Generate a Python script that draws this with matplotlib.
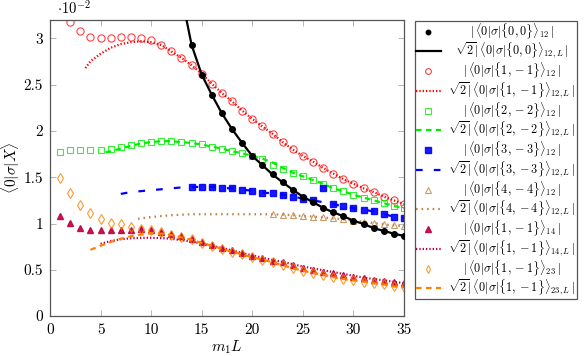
import matplotlib
matplotlib.use("Agg")
import matplotlib.pyplot as plt
from matplotlib.ticker import FuncFormatter, MultipleLocator
from matplotlib.transforms import Affine2D

plt.rcParams['font.family'] = 'serif'
plt.rcParams['font.serif'] = ['cmr10', 'DejaVu Serif']
plt.rcParams['mathtext.fontset'] = 'cm'
plt.rcParams['axes.formatter.use_mathtext'] = True
plt.rcParams['axes.unicode_minus'] = False

# ---------------- data (values in units of 1e-2) ----------------
x00_pts = list(range(14, 36))
y00_pts = [2.93, 2.61, 2.39, 2.19, 2.02, 1.87, 1.73, 1.63, 1.53, 1.445, 1.365,
           1.29, 1.23, 1.17, 1.12, 1.08, 1.03, 0.995, 0.95, 0.92, 0.89, 0.865]
x00_line = [13.5] + list(range(14, 36))
y00_line = [3.2] + y00_pts

x11_pts = list(range(2, 36))
y11_pts = [3.18, 3.08, 3.015, 3.00, 3.01, 3.02, 3.02, 3.01, 2.98, 2.93, 2.86, 2.79,
           2.71, 2.62, 2.51, 2.41, 2.32, 2.22, 2.13, 2.05, 1.97, 1.88, 1.80, 1.73,
           1.67, 1.60, 1.54, 1.48, 1.43, 1.38, 1.34, 1.29, 1.25, 1.21]
x11_line = [3.5] + list(range(4, 36))
y11_line = [2.68, 2.755, 2.835, 2.90, 2.94, 2.96, 2.97, 2.96, 2.93, 2.86, 2.79,
            2.71, 2.62, 2.51, 2.41, 2.32, 2.22, 2.13, 2.05, 1.97, 1.88, 1.80, 1.73,
            1.67, 1.60, 1.54, 1.48, 1.43, 1.38, 1.34, 1.29, 1.25, 1.21]

x22_pts = list(range(1, 36))
y22_pts = [1.773, 1.795, 1.795, 1.79, 1.79, 1.805, 1.825, 1.845, 1.867, 1.88, 1.893,
           1.893, 1.88, 1.87, 1.855, 1.83, 1.81, 1.78, 1.76, 1.73, 1.70, 1.635, 1.59,
           1.55, 1.51, 1.47, 1.43, 1.38, 1.35, 1.31, 1.28, 1.25, 1.22, 1.19, 1.165]
x22_line = [5.5] + list(range(6, 36))
y22_line = [1.77, 1.78, 1.81, 1.84, 1.865, 1.88, 1.89, 1.89, 1.88, 1.87, 1.855, 1.83,
            1.81, 1.78, 1.76, 1.73, 1.70, 1.66, 1.60, 1.55, 1.51, 1.47, 1.43, 1.38,
            1.35, 1.31, 1.28, 1.25, 1.22, 1.19, 1.165]

x33_pts = list(range(14, 36))
y33_pts = [1.395, 1.395, 1.395, 1.385, 1.38, 1.365, 1.355, 1.335, 1.325, 1.31, 1.29,
           1.27, 1.25, 1.38, 1.21, 1.185, 1.165, 1.15, 1.13, 1.10, 1.075, 1.06]
x33_line = list(range(7, 36))
y33_line = [1.32, 1.34, 1.35, 1.36, 1.37, 1.38, 1.39, 1.395, 1.395, 1.395, 1.385,
            1.38, 1.365, 1.355, 1.335, 1.325, 1.31, 1.29, 1.27, 1.25, 1.23, 1.21,
            1.185, 1.165, 1.15, 1.13, 1.10, 1.075, 1.06]

x44_pts = list(range(22, 36))
y44_pts = [1.10, 1.095, 1.09, 1.08, 1.075, 1.065, 1.055, 1.045, 1.03, 1.02, 1.005,
           0.99, 0.98, 0.97]
x44_line = [8.7] + list(range(9, 36))
y44_line = [1.05, 1.055, 1.07, 1.08, 1.09, 1.095, 1.10, 1.10, 1.10, 1.10, 1.10, 1.10,
            1.10, 1.10, 1.10, 1.095, 1.09, 1.08, 1.075, 1.065, 1.055, 1.045, 1.03,
            1.02, 1.005, 0.99, 0.98, 0.97]

x14_pts = list(range(1, 36))
y14_pts = [1.08, 1.01, 0.95, 0.925, 0.925, 0.93, 0.935, 0.935, 0.94, 0.925, 0.91,
           0.887, 0.863, 0.835, 0.80, 0.77, 0.74, 0.71, 0.68, 0.65, 0.625, 0.60, 0.58,
           0.553, 0.52, 0.50, 0.48, 0.463, 0.445, 0.427, 0.408, 0.39, 0.378, 0.365, 0.354]
x14_line = list(range(5, 36))
y14_line = [0.78, 0.81, 0.83, 0.84, 0.845, 0.845, 0.842, 0.835, 0.82, 0.805, 0.785,
            0.76, 0.735, 0.71, 0.68, 0.655, 0.63, 0.605, 0.585, 0.56, 0.535, 0.515,
            0.495, 0.475, 0.455, 0.435, 0.415, 0.40, 0.385, 0.37, 0.355]

x23_pts = list(range(1, 36))
y23_pts = [1.49, 1.335, 1.20, 1.11, 1.05, 1.01, 0.99, 0.967, 0.94, 0.93, 0.905, 0.88,
           0.855, 0.83, 0.79, 0.76, 0.725, 0.695, 0.665, 0.635, 0.61, 0.58, 0.55,
           0.515, 0.49, 0.465, 0.445, 0.42, 0.40, 0.385, 0.372, 0.355, 0.342, 0.32, 0.31]
x23_line = list(range(4, 36))
y23_line = [0.715, 0.76, 0.80, 0.835, 0.862, 0.88, 0.895, 0.89, 0.875, 0.85, 0.825,
            0.79, 0.76, 0.725, 0.695, 0.665, 0.635, 0.61, 0.58, 0.55, 0.515, 0.49,
            0.465, 0.445, 0.42, 0.40, 0.385, 0.372, 0.355, 0.342, 0.32, 0.31]

labels = [
    r'$|\,\langle 0|\sigma|\{0,0\}\rangle_{12}\,|$',
    r'$\sqrt{2}|\,\langle 0|\sigma|\{0,0\}\rangle_{12,L}\,|$',
    r'$|\,\langle 0|\sigma|\{1,-1\}\rangle_{12}\,|$',
    r'$\sqrt{2}|\,\langle 0|\sigma|\{1,-1\}\rangle_{12,L}\,|$',
    r'$|\,\langle 0|\sigma|\{2,-2\}\rangle_{12}\,|$',
    r'$\sqrt{2}|\,\langle 0|\sigma|\{2,-2\}\rangle_{12,L}\,|$',
    r'$|\,\langle 0|\sigma|\{3,-3\}\rangle_{12}\,|$',
    r'$\sqrt{2}|\,\langle 0|\sigma|\{3,-3\}\rangle_{12,L}\,|$',
    r'$|\,\langle 0|\sigma|\{4,-4\}\rangle_{12}\,|$',
    r'$\sqrt{2}|\,\langle 0|\sigma|\{4,-4\}\rangle_{12,L}\,|$',
    r'$|\,\langle 0|\sigma|\{1,-1\}\rangle_{14}\,|$',
    r'$\sqrt{2}|\,\langle 0|\sigma|\{1,-1\}\rangle_{14,L}\,|$',
    r'$|\,\langle 0|\sigma|\{1,-1\}\rangle_{23}\,|$',
    r'$\sqrt{2}|\,\langle 0|\sigma|\{1,-1\}\rangle_{23,L}\,|$',
]

# ---------------- styles ----------------
RED = '#ff0000'
GREEN = '#00ee00'
BLUE = '#0000ff'
BROWN = '#bf8040'
PURPLE = '#bf0040'
ORANGE = '#ff8000'

fig = plt.figure(figsize=(5.87, 3.56), dpi=100)
ax = fig.add_axes([50/587, 1-316/356, (404-50)/587, (316-20)/356])

handles = []
h = ax.plot(x00_pts, y00_pts, 'o', color='black', ms=4.0, ls='none', zorder=4)[0]
handles.append(h)
h = ax.plot(x00_line, y00_line, '-', color='black', lw=1.6, zorder=3)[0]
handles.append(h)

h = ax.plot(x11_pts, y11_pts, 'o', mfc='none', mec=RED, mew=0.8, ms=5.2, ls='none', alpha=0.75)[0]
handles.append(h)
h = ax.plot(x11_line, y11_line, color=RED, lw=1.6, ls=(0, (0.6, 0.9)))[0]
handles.append(h)

h = ax.plot(x22_pts, y22_pts, 's', mfc='none', mec=GREEN, mew=0.8, ms=4.8, ls='none', alpha=0.8)[0]
handles.append(h)
h = ax.plot(x22_line, y22_line, color=GREEN, lw=1.6, ls=(0, (2.5, 2)))[0]
handles.append(h)

h = ax.plot(x33_pts, y33_pts, 's', color=BLUE, ms=5.0, ls='none', alpha=0.9)[0]
handles.append(h)
h = ax.plot(x33_line, y33_line, color=BLUE, lw=1.6, ls=(0, (3, 5)))[0]
handles.append(h)

h = ax.plot(x44_pts, y44_pts, '^', mfc='none', mec=BROWN, mew=0.8, ms=4.8, ls='none', alpha=0.8)[0]
handles.append(h)
h = ax.plot(x44_line, y44_line, color=BROWN, lw=1.6, ls=(0, (0.7, 1.8)))[0]
handles.append(h)

h = ax.plot(x14_pts, y14_pts, '^', color=PURPLE, ms=5, ls='none', alpha=0.9)[0]
handles.append(h)
h = ax.plot(x14_line, y14_line, color=PURPLE, lw=1.6, ls=(0, (0.6, 0.9)))[0]
handles.append(h)

h = ax.plot(x23_pts, y23_pts, 'd', mfc='none', mec=ORANGE, mew=0.8, ms=5, ls='none', alpha=0.8)[0]
handles.append(h)
h = ax.plot(x23_line, y23_line, color=ORANGE, lw=1.6, ls=(0, (2.5, 2)))[0]
handles.append(h)

ax.set_xlim(0, 35)
ax.set_ylim(0, 3.2)
ax.xaxis.set_major_locator(MultipleLocator(5))
ax.yaxis.set_major_locator(MultipleLocator(0.5))
ax.yaxis.set_major_formatter(FuncFormatter(lambda v, p: f'{v:g}'))
ax.xaxis.set_major_formatter(FuncFormatter(lambda v, p: f'{v:g}'))
ax.tick_params(direction='in', top=True, right=True, length=4, width=0.6,
               color='#aaaaaa', labelsize=11, pad=5)
for s in ax.spines.values():
    s.set_color('#555555')
    s.set_linewidth(0.9)

ax.set_xlabel(r'$m_1 L$', fontsize=11, labelpad=1)
ax.set_ylabel(r'$\langle 0|\sigma|X\rangle$', fontsize=11, labelpad=1)
fig.text(57/587, 1-14/356, r'$\cdot 10^{-2}$', fontsize=10.5, va='baseline', ha='left')

leg = fig.legend(handles, labels, loc='upper left',
                 bbox_to_anchor=(415/587, 1-20.5/356), fontsize=8.8,
                 frameon=True, fancybox=False, framealpha=1, edgecolor='#555555',
                 borderpad=0.1, labelspacing=0.0, handlelength=2.0, handletextpad=0.6,
                 borderaxespad=0.0, markerscale=0.8)
leg.get_frame().set_linewidth(0.9)

# center the legend labels within the text column
fig.canvas.draw()
r = fig.canvas.get_renderer()
texts = leg.get_texts()
widths = [t.get_window_extent(r).width for t in texts]
W = max(widths)
for t, w in zip(texts, widths):
    dx = (W - w) / 2.0
    t.set_transform(t.get_transform() + Affine2D().translate(dx, 0))

fig.savefig('out.png', dpi=100)
